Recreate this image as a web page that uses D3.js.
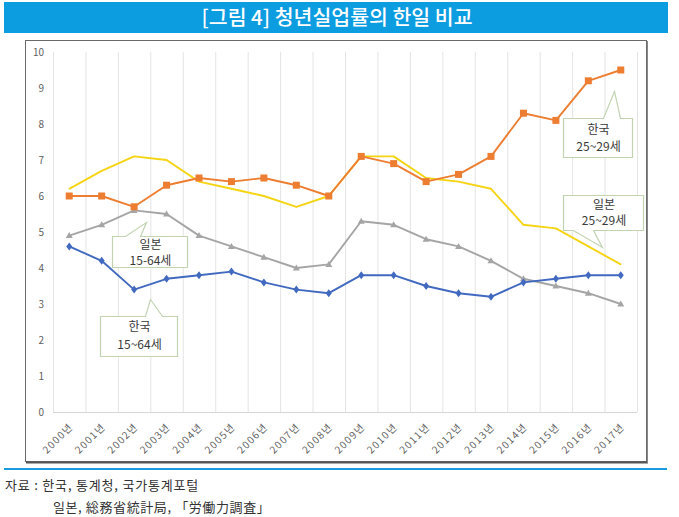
<!DOCTYPE html>
<html>
<head>
<meta charset="utf-8">
<script src="https://cdn.jsdelivr.net/npm/d3@7/dist/d3.min.js"></script>
<style>
  html, body { margin: 0; padding: 0; background: #ffffff; }
  svg { display: block; }
  text { font-family: "Noto Sans CJK KR", "Noto Sans", sans-serif; }
</style>
</head>
<body>
<svg id="chart" width="679" height="517"></svg>
<script>
// ---- data ----
const years = ["2000년","2001년","2002년","2003년","2004년","2005년","2006년","2007년","2008년","2009년",
               "2010년","2011년","2012년","2013년","2014년","2015년","2016년","2017년"];
const korea2529 = [6.0, 6.0, 5.7, 6.3, 6.5, 6.4, 6.5, 6.3, 6.0, 7.1, 6.9, 6.4, 6.6, 7.1, 8.3, 8.1, 9.2, 9.5];
const japan2529 = [6.2, 6.7, 7.1, 7.0, 6.4, 6.2, 6.0, 5.7, 6.0, 7.1, 7.1, 6.5, 6.4, 6.2, 5.2, 5.1, 4.6, 4.1];
const japan1564 = [4.9, 5.2, 5.6, 5.5, 4.9, 4.6, 4.3, 4.0, 4.1, 5.3, 5.2, 4.8, 4.6, 4.2, 3.7, 3.5, 3.3, 3.0];
const korea1564 = [4.6, 4.2, 3.4, 3.7, 3.8, 3.9, 3.6, 3.4, 3.3, 3.8, 3.8, 3.5, 3.3, 3.2, 3.6, 3.7, 3.8, 3.8];
const yTicks = [0,1,2,3,4,5,6,7,8,9,10];
const titleText = "[그림 4] 청년실업률의 한일 비교";
const sourceLines = ["자료 : 한국, 통계청, 국가통계포털", "일본, 総務省統計局, 「労働力調査」"];

const svg = d3.select("#chart");

// ---- title bar ----
svg.append("rect").attr("x", 4).attr("y", 2).attr("width", 664).attr("height", 31).attr("fill", "#0c9ce0");
svg.append("text").attr("x", 337).attr("y", 18).attr("text-anchor", "middle").attr("dy", "0.36em")
  .attr("fill", "#ffffff").attr("font-size", 20.5).attr("font-weight", 500).text(titleText);

// ---- frame ----
svg.append("rect").attr("x", 25.5).attr("y", 40.5).attr("width", 621).attr("height", 421)
  .attr("fill", "#ffffff").attr("stroke", "#6a6a6a").attr("stroke-width", 1);
svg.append("line").attr("x1", 26).attr("x2", 648).attr("y1", 462.5).attr("y2", 462.5).attr("stroke", "#555").attr("stroke-width", 2);
svg.append("line").attr("x1", 647.5).attr("x2", 647.5).attr("y1", 41).attr("y2", 463).attr("stroke", "#888").attr("stroke-width", 1);

// separator
svg.append("line").attr("x1", 4).attr("x2", 667).attr("y1", 469).attr("y2", 469).attr("stroke", "#1a9be0").attr("stroke-width", 2);

// ---- scales ----
const x = d3.scaleBand().domain(years).range([53, 637]);
const cx = d => x(d) + x.bandwidth() / 2;
const y = d3.scaleLinear().domain([0, 10]).range([412, 52]);

// vertical gridlines at band boundaries
const g = svg.append("g");
const bounds = years.map(d => x(d)).concat([x(years[years.length - 1]) + x.bandwidth()]);
g.selectAll("line.vg").data(bounds).enter().append("line")
  .attr("x1", d => d + 0.5).attr("x2", d => d + 0.5).attr("y1", y(10)).attr("y2", y(0))
  .attr("stroke", "#e4e4e4").attr("stroke-width", 1);
// baseline
g.append("line").attr("x1", 53).attr("x2", 637).attr("y1", y(0) + 0.5).attr("y2", y(0) + 0.5)
  .attr("stroke", "#d6d6d6").attr("stroke-width", 1);

// y axis labels
const yAxis = d3.axisLeft(y).tickValues(yTicks).tickSize(0).tickPadding(9).tickFormat(d3.format("d"));
const ya = svg.append("g").attr("transform", "translate(53,0)").call(yAxis);
ya.select(".domain").remove();
ya.selectAll("text").attr("fill", "#606060").attr("font-size", 10).attr("font-family", "Noto Sans, sans-serif");

// x axis labels
const xAxis = d3.axisBottom(x).tickSize(0).tickPadding(0);
const xa = svg.append("g").attr("transform", "translate(0," + y(0) + ")").call(xAxis);
xa.select(".domain").remove();
xa.selectAll("text")
  .attr("fill", "#606060").attr("font-size", 10).attr("letter-spacing", 1.3)
  .attr("text-anchor", "end").attr("x", 0).attr("y", 0).attr("dy", "0.35em")
  .attr("transform", "translate(2,13) rotate(-45)");

// ---- series ----
const series = [
  { vals: japan2529, color: "#f5d414", marker: "circle", size: 3 },
  { vals: japan1564, color: "#a5a5a5", marker: "triangle", size: 7 },
  { vals: korea1564, color: "#4169c0", marker: "diamond", size: 6 },
  { vals: korea2529, color: "#ed7d31", marker: "square", size: 7 }
];
const line = d3.line().x((d, i) => cx(years[i])).y(d => y(d));
series.forEach(s => {
  svg.append("path").datum(s.vals).attr("d", line).attr("fill", "none")
    .attr("stroke", s.color).attr("stroke-width", 1.9).attr("stroke-linejoin", "round");
  const mg = svg.append("g");
  s.vals.forEach((v, i) => {
    const px = cx(years[i]), py = y(v), r = s.size / 2;
    if (s.marker === "square") {
      mg.append("rect").attr("x", px - r).attr("y", py - r).attr("width", s.size).attr("height", s.size).attr("fill", s.color);
    } else if (s.marker === "diamond") {
      mg.append("path").attr("d", `M${px},${py - r - 1}L${px + r},${py}L${px},${py + r + 1}L${px - r},${py}Z`).attr("fill", s.color);
    } else if (s.marker === "triangle") {
      mg.append("path").attr("d", `M${px},${py - r}L${px + r},${py + r - 1}L${px - r},${py + r - 1}Z`).attr("fill", s.color);
    } else {
      mg.append("circle").attr("cx", px).attr("cy", py).attr("r", r / 2).attr("fill", s.color);
    }
  });
});

// ---- callouts ----
const callouts = [
  { x0: 112, x1: 187, y0: 236, y1: 267, side: "top", b0: 125, b1: 140, ax: 146, ay: 222, lines: ["일본", "15-64세"], ly: [249, 265] },
  { x0: 100, x1: 177, y0: 316, y1: 356, side: "top", b0: 145, b1: 162, ax: 150, ay: 299, lines: ["한국", "15~64세"], ly: [331, 349] },
  { x0: 563, x1: 632, y0: 118, y1: 157, side: "top", b0: 603, b1: 620, ax: 614, ay: 91, lines: ["한국", "25~29세"], ly: [134, 151] },
  { x0: 563, x1: 643, y0: 195, y1: 230, side: "bottom", b0: 573, b1: 593, ax: 602, ay: 247, lines: ["일본", "25~29세"], ly: [209, 225] }
];
callouts.forEach(c => {
  let d;
  if (c.side === "top") {
    d = `M${c.x0},${c.y0}L${c.b0},${c.y0}L${c.ax},${c.ay}L${c.b1},${c.y0}L${c.x1},${c.y0}L${c.x1},${c.y1}L${c.x0},${c.y1}Z`;
  } else {
    d = `M${c.x0},${c.y0}L${c.x1},${c.y0}L${c.x1},${c.y1}L${c.b1},${c.y1}L${c.ax},${c.ay}L${c.b0},${c.y1}L${c.x0},${c.y1}Z`;
  }
  svg.append("path").attr("d", d).attr("fill", "#ffffff").attr("stroke", "#c2d3b2").attr("stroke-width", 1.2)
    .attr("transform", "translate(0.5,0.5)");
  c.lines.forEach((t, i) => {
    svg.append("text").attr("x", (c.x0 + c.x1) / 2 + 1).attr("y", c.ly[i]).attr("text-anchor", "middle")
      .attr("font-size", 12).attr("fill", "#3a3a3a").text(t);
  });
});

// ---- source note ----
svg.append("text").attr("x", 5).attr("y", 490).attr("font-size", 13).attr("fill", "#333").attr("letter-spacing", 0.8).text(sourceLines[0]);
svg.append("text").attr("x", 53).attr("y", 512).attr("font-size", 13).attr("fill", "#333").attr("letter-spacing", 0.6).text(sourceLines[1]);
</script>
</body>
</html>
